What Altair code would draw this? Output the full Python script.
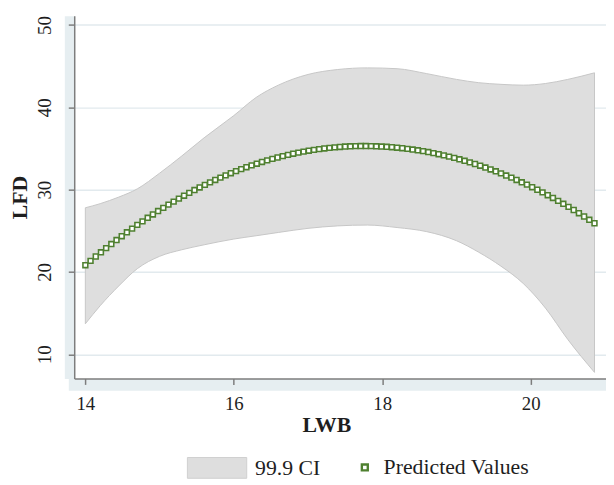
import altair as alt
import pandas as pd

# ---- data ----
LWB_GRID = [14.00, 14.07, 14.14, 14.21, 14.28, 14.35, 14.42, 14.49, 14.56, 14.63,
            14.70, 14.77, 14.84, 14.91, 14.98, 15.05, 15.12, 15.19, 15.26, 15.33,
            15.40, 15.47, 15.54, 15.61, 15.68, 15.75, 15.82, 15.89, 15.96, 16.03,
            16.10, 16.17, 16.24, 16.31, 16.38, 16.45, 16.52, 16.59, 16.66, 16.73,
            16.80, 16.87, 16.94, 17.01, 17.08, 17.15, 17.22, 17.29, 17.36, 17.43,
            17.50, 17.57, 17.64, 17.71, 17.78, 17.85, 17.92, 17.99, 18.06, 18.13,
            18.20, 18.27, 18.34, 18.41, 18.48, 18.55, 18.62, 18.69, 18.76, 18.83,
            18.90, 18.97, 19.04, 19.11, 19.18, 19.25, 19.32, 19.39, 19.46, 19.53,
            19.60, 19.67, 19.74, 19.81, 19.88, 19.95, 20.02, 20.09, 20.16, 20.23,
            20.30, 20.37, 20.44, 20.51, 20.58, 20.65, 20.72, 20.79, 20.86]

PREDICTED = [20.82, 21.35, 21.88, 22.39, 22.90, 23.39, 23.88, 24.35, 24.82, 25.27,
             25.72, 26.15, 26.58, 26.99, 27.40, 27.79, 28.18, 28.55, 28.91, 29.27,
             29.61, 29.95, 30.27, 30.58, 30.89, 31.18, 31.46, 31.74, 32.00, 32.25,
             32.50, 32.73, 32.95, 33.16, 33.37, 33.56, 33.74, 33.91, 34.08, 34.23,
             34.37, 34.50, 34.62, 34.74, 34.84, 34.93, 35.01, 35.08, 35.14, 35.19,
             35.24, 35.27, 35.29, 35.30, 35.30, 35.29, 35.27, 35.24, 35.21, 35.16,
             35.10, 35.04, 34.96, 34.88, 34.78, 34.68, 34.57, 34.44, 34.31, 34.17,
             34.02, 33.86, 33.69, 33.51, 33.32, 33.12, 32.91, 32.69, 32.46, 32.23,
             31.98, 31.72, 31.46, 31.18, 30.90, 30.61, 30.30, 29.99, 29.67, 29.33,
             28.99, 28.64, 28.28, 27.91, 27.53, 27.14, 26.74, 26.34, 25.92]

CI_X = [14.0, 14.2, 14.45, 14.7, 15.0, 15.3, 15.6, 16.0, 16.3, 16.6, 17.0,
        17.4, 17.8, 18.2, 18.6, 19.0, 19.3, 19.6, 19.9, 20.2, 20.5, 20.86]
CI_LOW = [13.7, 15.9, 18.3, 20.4, 21.9, 22.7, 23.3, 24.0, 24.4, 24.8, 25.3,
          25.6, 25.7, 25.4, 24.9, 23.8, 22.4, 20.7, 18.6, 15.6, 11.8, 7.8]
CI_HIGH = [27.8, 28.3, 29.1, 30.1, 32.0, 34.1, 36.3, 39.0, 41.2, 42.7, 44.0,
           44.6, 44.8, 44.7, 44.1, 43.4, 43.0, 42.8, 42.7, 42.9, 43.4, 44.2]

X_TICKS = [14, 16, 18, 20]
Y_TICKS = [10, 20, 30, 40, 50]
CI_LABEL = "99.9 CI"
PV_LABEL = "Predicted Values"

band_df = pd.DataFrame({"LWB": CI_X, "lo": CI_LOW, "hi": CI_HIGH, "ci": CI_LABEL})
pred_df = pd.DataFrame({"LWB": LWB_GRID, "LFD": PREDICTED, "pv": PV_LABEL})

# ---- styling ----
SERIF = "Liberation Serif"
TEXT = "#1e1e1e"
AXIS_GRAY = "#7d7d7d"
STRIP = "#E6EEF1"
GRID = "#E2EAEE"
BAND_FILL = "#DEDEDE"
BAND_LINE = "#C6C6C6"
GREEN = "#4F8030"

xscale = alt.Scale(domain=[13.85, 21.015], nice=False, zero=False)
yscale = alt.Scale(domain=[7.06, 51.14], nice=False, zero=False)

strip_x = alt.Axis(orient="bottom", offset=6, domainWidth=12, domainColor=STRIP,
                   domainCap="square", ticks=False, labels=False, grid=False, title=None)
strip_y = alt.Axis(orient="left", offset=5, domainWidth=10, domainColor=STRIP,
                   ticks=False, labels=False, grid=False, title=None)

main_x = alt.Axis(orient="bottom", values=X_TICKS, format="d", grid=False,
                  labelFont=SERIF, labelFontSize=19, labelColor=TEXT, labelPadding=10,
                  tickSize=6, tickColor=AXIS_GRAY, tickWidth=1.5,
                  domainColor=AXIS_GRAY, domainWidth=1.5,
                  title="LWB", titleFont=SERIF, titleFontSize=22, titleFontWeight="bold",
                  titleColor=TEXT, titlePadding=2, titleX=255)
main_y = alt.Axis(orient="left", values=Y_TICKS, format="d",
                  grid=True, gridColor=GRID, gridWidth=1.5,
                  labelFont=SERIF, labelFontSize=19, labelColor=TEXT, labelPadding=14,
                  labelAngle=-90, labelAlign="center", labelBaseline="bottom",
                  tickSize=6, tickColor=AXIS_GRAY, tickWidth=1.5,
                  domainColor=AXIS_GRAY, domainWidth=1.5,
                  title="LFD", titleFont=SERIF, titleFontSize=22, titleFontWeight="bold",
                  titleColor=TEXT, titlePadding=4)

band = alt.Chart(band_df).mark_area(
    interpolate="monotone", stroke=BAND_LINE, strokeWidth=1, opacity=1
).encode(
    x=alt.X("LWB:Q", scale=xscale, axis=strip_x),
    y=alt.Y("lo:Q", scale=yscale, axis=strip_y),
    y2="hi:Q",
    fill=alt.Fill("ci:N", scale=alt.Scale(domain=[CI_LABEL], range=[BAND_FILL]),
                  legend=alt.Legend(orient="none", legendX=114, legendY=427,
                                    title=None, padding=0, direction="horizontal",
                                    symbolType="M-1,-0.35L1,-0.35L1,0.35L-1,0.35Z",
                                    symbolSize=3600, symbolStrokeColor="#CFCFCF",
                                    symbolStrokeWidth=1, symbolFillColor=BAND_FILL,
                                    labelFont=SERIF, labelFontSize=22, labelColor=TEXT,
                                    labelOffset=8)),
)

points = alt.Chart(pred_df).mark_point(
    shape="square", size=24, filled=True, fill="white", strokeWidth=1.6, opacity=1
).encode(
    x=alt.X("LWB:Q", scale=xscale, axis=main_x),
    y=alt.Y("LFD:Q", scale=yscale, axis=main_y),
    stroke=alt.Stroke("pv:N", scale=alt.Scale(domain=[PV_LABEL], range=[GREEN]),
                      legend=alt.Legend(orient="none", legendX=283, legendY=446,
                                        title=None, padding=0, direction="horizontal",
                                        symbolType="square", symbolSize=36,
                                        symbolFillColor="white", symbolStrokeColor=GREEN,
                                        symbolStrokeWidth=2.4,
                                        labelFont=SERIF, labelFontSize=22, labelColor=TEXT,
                                        labelOffset=8)),
)

chart = alt.layer(band, points).resolve_axis(
    x="independent", y="independent"
).properties(
    width=538, height=367,
    padding={"left": 67, "top": 5, "right": 0, "bottom": 105},
    autosize=alt.AutoSizeParams(type="none"),
    background="white",
).configure_view(stroke=None)

chart.save("out.html", embed_options={"renderer": "svg", "actions": False})
